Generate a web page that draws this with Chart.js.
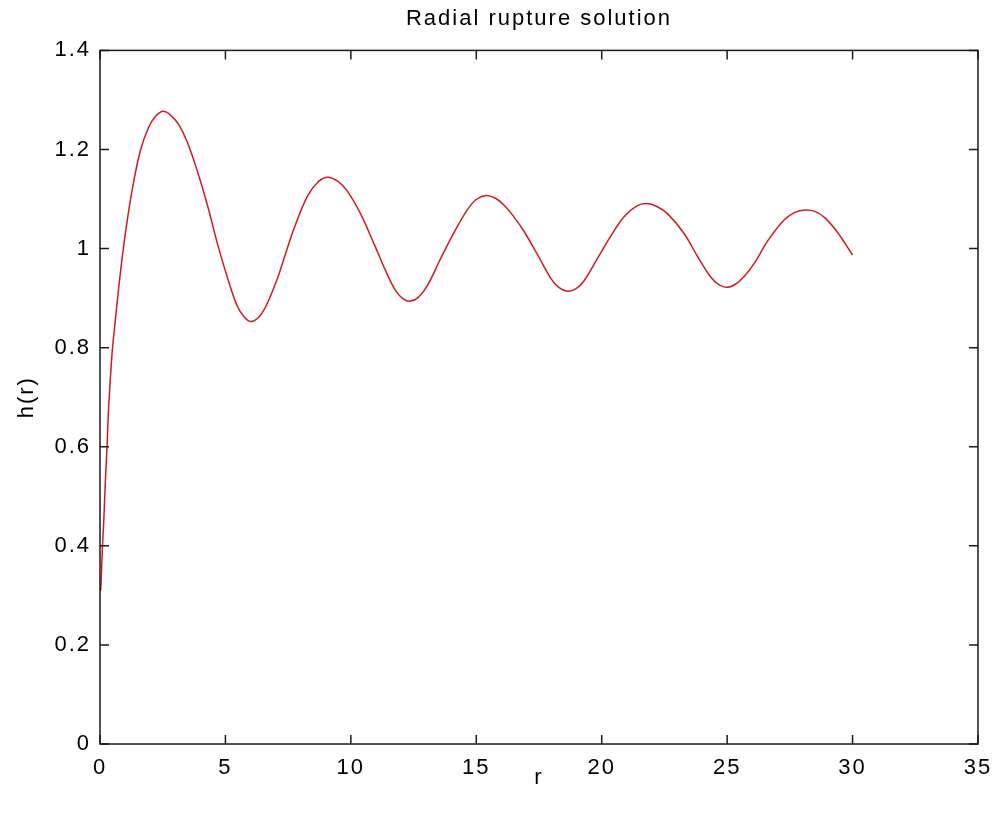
<!DOCTYPE html>
<html>
<head>
<meta charset="utf-8">
<script src="https://cdn.jsdelivr.net/npm/chart.js@4/dist/chart.umd.min.js"></script>
<style>
html,body{margin:0;padding:0;background:#fff;}
#wrap{width:998px;height:818px;}
</style>
</head>
<body>
<div id="wrap"><canvas id="c" width="998" height="818"></canvas></div>
<script>
// r values (x) and h(r) values (y)
const rValues = [0.03, 0.10, 0.15, 0.21, 0.28, 0.34, 0.48, 0.61, 0.81, 1.01, 1.28, 1.61, 1.94, 2.20, 2.50, 2.80, 3.14, 3.47, 3.87, 4.27, 4.67, 5.07, 5.47, 5.75, 6.00, 6.30, 6.60, 7.06, 7.40, 7.73, 8.26, 8.70, 9.08, 9.50, 9.86, 10.39, 10.92, 11.45, 11.80, 12.10, 12.38, 12.70, 13.05, 13.58, 14.11, 14.64, 15.00, 15.38, 15.75, 16.10, 16.50, 16.90, 17.44, 17.97, 18.30, 18.62, 18.95, 19.30, 19.83, 20.36, 20.89, 21.40, 21.80, 22.20, 22.63, 23.29, 23.82, 24.35, 24.70, 25.00, 25.30, 25.65, 26.08, 26.61, 27.28, 27.70, 28.10, 28.50, 28.90, 29.41, 30.00];
const hValues = [0.310, 0.400, 0.450, 0.526, 0.600, 0.674, 0.788, 0.855, 0.950, 1.030, 1.118, 1.198, 1.245, 1.266, 1.277, 1.270, 1.250, 1.216, 1.158, 1.090, 1.012, 0.943, 0.884, 0.862, 0.853, 0.860, 0.882, 0.938, 0.990, 1.040, 1.105, 1.135, 1.144, 1.135, 1.116, 1.070, 1.010, 0.948, 0.914, 0.898, 0.894, 0.902, 0.925, 0.980, 1.032, 1.078, 1.099, 1.107, 1.102, 1.088, 1.064, 1.035, 0.988, 0.940, 0.921, 0.914, 0.918, 0.935, 0.980, 1.025, 1.064, 1.086, 1.091, 1.085, 1.070, 1.030, 0.984, 0.942, 0.926, 0.922, 0.927, 0.942, 0.970, 1.015, 1.058, 1.073, 1.078, 1.075, 1.062, 1.032, 0.987];

const title = 'Radial rupture solution';
const xTitle = 'r';
const yTitle = 'h(r)';
const xTicks = [0, 5, 10, 15, 20, 25, 30, 35];
const xTickLabels = ['0', '5', '10', '15', '20', '25', '30', '35'];
const yTicks = [0, 0.2, 0.4, 0.6, 0.8, 1.0, 1.2, 1.4];
const yTickLabels = ['0', '0.2', '0.4', '0.6', '0.8', '1', '1.2', '1.4'];

const points = rValues.map((r, i) => ({x: r, y: hValues[i]}));
const FONT = '"Liberation Sans", Arial, Helvetica, sans-serif';
const FS = 22;

const spacing = {
  id: 'spacing',
  beforeUpdate(chart) { chart.ctx.letterSpacing = '2px'; },
  beforeLayout(chart) { chart.ctx.letterSpacing = '2px'; },
  beforeDraw(chart) { chart.ctx.letterSpacing = '2px'; }
};

const frameTicks = {
  id: 'frameTicks',
  afterDraw(chart) {
    const {ctx, chartArea: a, scales: {x, y}} = chart;
    ctx.save();
    ctx.strokeStyle = '#1a1a1a';
    ctx.lineWidth = 1.5;
    ctx.strokeRect(a.left, a.top, a.right - a.left, a.bottom - a.top);
    const L = 9;
    ctx.beginPath();
    x.ticks.forEach(t => {
      const px = x.getPixelForValue(t.value);
      ctx.moveTo(px, a.bottom); ctx.lineTo(px, a.bottom - L);
      ctx.moveTo(px, a.top); ctx.lineTo(px, a.top + L);
    });
    y.ticks.forEach(t => {
      const py = y.getPixelForValue(t.value);
      ctx.moveTo(a.left, py); ctx.lineTo(a.left + L, py);
      ctx.moveTo(a.right, py); ctx.lineTo(a.right - L, py);
    });
    ctx.stroke();
    ctx.restore();
  }
};

new Chart(document.getElementById('c'), {
  type: 'line',
  data: {
    datasets: [{
      data: points,
      borderColor: 'rgb(210,25,35)',
      borderWidth: 1.5,
      pointRadius: 0,
      fill: false,
      tension: 0.35
    }]
  },
  options: {
    responsive: false,
    animation: false,
    devicePixelRatio: 1,
    layout: {padding: {left: 0, right: 20, top: 0, bottom: 0}},
    plugins: {
      legend: {display: false},
      tooltip: {enabled: false},
      title: {
        display: true,
        fullSize: false,
        text: title,
        color: '#000',
        font: {family: FONT, size: FS, weight: 'normal'},
        padding: {top: 6, bottom: 18}
      }
    },
    scales: {
      x: {
        type: 'linear',
        min: 0, max: 35,
        afterBuildTicks: s => { s.ticks = xTicks.map(v => ({value: v})); },
        afterFit: s => { s.height = 74; s.paddingLeft = 0; s.paddingRight = 0; },
        grid: {display: false, drawTicks: false},
        border: {display: false},
        ticks: {
          color: '#000', padding: 11, maxRotation: 0, autoSkip: false,
          font: {family: FONT, size: FS},
          callback: (v, i) => xTickLabels[i]
        },
        title: {
          display: true, text: xTitle, color: '#000',
          font: {family: FONT, size: FS},
          padding: {top: 0, bottom: 27}
        }
      },
      y: {
        type: 'linear',
        min: 0, max: 1.4,
        afterBuildTicks: s => { s.ticks = yTicks.map(v => ({value: v})); },
        afterFit: s => { s.width = 100; s.paddingTop = 0; s.paddingBottom = 0; },
        grid: {display: false, drawTicks: false},
        border: {display: false},
        ticks: {
          color: '#000', padding: 9, autoSkip: false,
          font: {family: FONT, size: FS},
          callback: (v, i) => yTickLabels[i]
        },
        title: {
          display: true, text: yTitle, color: '#000',
          font: {family: FONT, size: FS},
          padding: {top: 14, bottom: 0}
        }
      }
    }
  },
  plugins: [spacing, frameTicks]
});
</script>
</body>
</html>
